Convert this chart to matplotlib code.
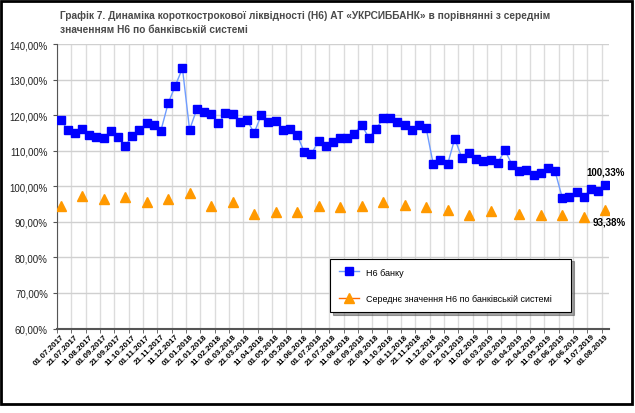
import numpy as np
import matplotlib.pyplot as plt
from matplotlib.patches import Rectangle

plt.rcParams['font.family'] = ['Liberation Sans', 'DejaVu Sans']

title = ('Графік 7. Динаміка короткострокової ліквідності (Н6) АТ «УКРСИББАНК» в порівнянні з середнім\n'
         'значенням Н6 по банківській системі')

dates = ['01.07.2017', '11.07.2017', '21.07.2017', '01.08.2017', '11.08.2017', '21.08.2017',
         '01.09.2017', '11.09.2017', '21.09.2017', '01.10.2017', '11.10.2017', '21.10.2017',
         '01.11.2017', '11.11.2017', '21.11.2017', '01.12.2017', '11.12.2017', '21.12.2017',
         '01.01.2018', '11.01.2018', '21.01.2018', '01.02.2018', '11.02.2018', '21.02.2018',
         '01.03.2018', '11.03.2018', '21.03.2018', '01.04.2018', '11.04.2018', '21.04.2018',
         '01.05.2018', '11.05.2018', '21.05.2018', '01.06.2018', '11.06.2018', '21.06.2018',
         '01.07.2018', '11.07.2018', '21.07.2018', '01.08.2018', '11.08.2018', '21.08.2018',
         '01.09.2018', '11.09.2018', '21.09.2018', '01.10.2018', '11.10.2018', '21.10.2018',
         '01.11.2018', '11.11.2018', '21.11.2018', '01.12.2018', '11.12.2018', '21.12.2018',
         '01.01.2019', '11.01.2019', '21.01.2019', '01.02.2019', '11.02.2019', '21.02.2019',
         '01.03.2019', '11.03.2019', '21.03.2019', '29.03.2019', '01.04.2019', '11.04.2019',
         '21.04.2019', '01.05.2019', '11.05.2019', '21.05.2019', '01.06.2019', '11.06.2019',
         '21.06.2019', '01.07.2019', '11.07.2019', '21.07.2019', '01.08.2019']

# Н6 банку, %
bank = [118.7, 115.9, 115.1, 116.0, 114.5, 113.8, 113.6, 115.6, 113.9, 111.4,
        114.1, 115.8, 117.8, 117.3, 115.7, 123.3, 128.3, 133.2, 115.9, 121.7,
        120.9, 120.3, 117.7, 120.5, 120.3, 118.0, 118.7, 115.0, 120.0, 118.2,
        118.5, 115.9, 116.1, 114.5, 109.6, 109.1, 112.8, 111.3, 112.4, 113.5,
        113.6, 114.8, 117.3, 113.7, 116.0, 119.2, 119.2, 118.1, 117.3, 115.9,
        117.3, 116.5, 106.2, 107.5, 106.2, 113.4, 108.0, 109.3, 107.8, 107.0,
        107.4, 106.7, 110.1, 106.1, 104.2, 104.5, 103.1, 103.8, 105.2, 104.2,
        96.8, 97.1, 98.3, 97.0, 99.3, 98.7, 100.33]

# середнє по системі (щомісячно)
avg_dates = ['01.07.2017', '01.08.2017', '01.09.2017', '01.10.2017', '01.11.2017', '01.12.2017',
             '01.01.2018', '01.02.2018', '01.03.2018', '01.04.2018', '01.05.2018', '01.06.2018',
             '01.07.2018', '01.08.2018', '01.09.2018', '01.10.2018', '01.11.2018', '01.12.2018',
             '01.01.2019', '01.02.2019', '01.03.2019', '01.04.2019', '01.05.2019', '01.06.2019',
             '01.07.2019', '01.08.2019']
avg = [94.6, 97.2, 96.4, 97.1, 95.5, 96.4, 98.1, 94.5, 95.7, 92.3, 92.7, 92.9, 94.4,
       94.2, 94.4, 95.5, 94.8, 94.2, 93.3, 91.9, 93.2, 92.1, 91.8, 91.8, 91.5, 93.38]

x = np.arange(len(dates))
avg_full = np.full(len(dates), np.nan)
for d, v in zip(avg_dates, avg):
    avg_full[dates.index(d)] = v

fig = plt.figure(figsize=(6.35, 4.14), dpi=100)
ax = fig.add_axes([0.0898, 0.204, 0.869, 0.687])

# рамка навколо
fig.patches.append(Rectangle((0.002, 0.022), 0.993, 0.974, transform=fig.transFigure,
                             fill=False, edgecolor='black', linewidth=2))

ax.plot(x, bank, '-', color='#6f9cff', linewidth=1, marker='s', markersize=5.3,
        markerfacecolor='#0000ff', markeredgecolor='#0000ff', label='Н6 банку', zorder=3)
ax.plot(x, avg_full, '-', color='#ff6a00', linewidth=1, marker='^', markersize=6.5,
        markerfacecolor='#ff9900', markeredgecolor='#ff9900',
        label='Середнє значення Н6 по банківській системі', zorder=3)

ax.annotate('100,33%', (x[-1], bank[-1]), xytext=(0, 6), textcoords='offset points',
            ha='center', va='bottom', fontsize=7, fontweight='bold', annotation_clip=False)
ax.annotate('93,38%', (x[-1], avg[-1]), xytext=(3, -5), textcoords='offset points',
            ha='center', va='top', fontsize=7, fontweight='bold', annotation_clip=False)

ax.set_xlim(-0.5, len(dates) - 0.5)
ax.set_ylim(60, 140)
ax.set_yticks(np.arange(60, 141, 10))
ax.set_yticklabels(['%d,00%%' % v for v in range(60, 141, 10)], fontsize=7, color='#222222')

ax.set_xticks(x[::2])
ax.set_xticklabels(dates[::2], rotation=45, ha='right', rotation_mode='anchor',
                   fontsize=5.8, fontweight='bold')
ax.set_xticks(np.arange(-0.5, len(dates), 2), minor=True)
ax.tick_params(axis='x', which='major', length=0, pad=3)
ax.tick_params(axis='x', which='minor', length=3, color='#555555')
ax.tick_params(axis='y', length=3, color='#555555')

ax.grid(True, axis='y', color='#d0d0d0', linewidth=1)
ax.grid(True, axis='x', which='minor', color='#dcdcdc', linewidth=1)
ax.set_axisbelow(True)
for s in ['top', 'right']:
    ax.spines[s].set_visible(False)
ax.spines['left'].set_color('#555555')
ax.spines['bottom'].set_color('#555555')
ax.spines['bottom'].set_linewidth(1.5)

leg = ax.legend(loc='upper left', bbox_to_anchor=(0.487, 0.09, 0.453, 0.172), mode='expand',
                fontsize=6.5, frameon=True, fancybox=False, shadow=True, labelspacing=1.9,
                handlelength=2.2, borderpad=1.0, edgecolor='black')
leg.get_frame().set_linewidth(0.8)

fig.text(0.094, 0.945, title, fontsize=7.3, fontweight='bold', color='#4a4a4a',
         ha='left', va='center', linespacing=1.5)

fig.savefig('out.png', dpi=100)
